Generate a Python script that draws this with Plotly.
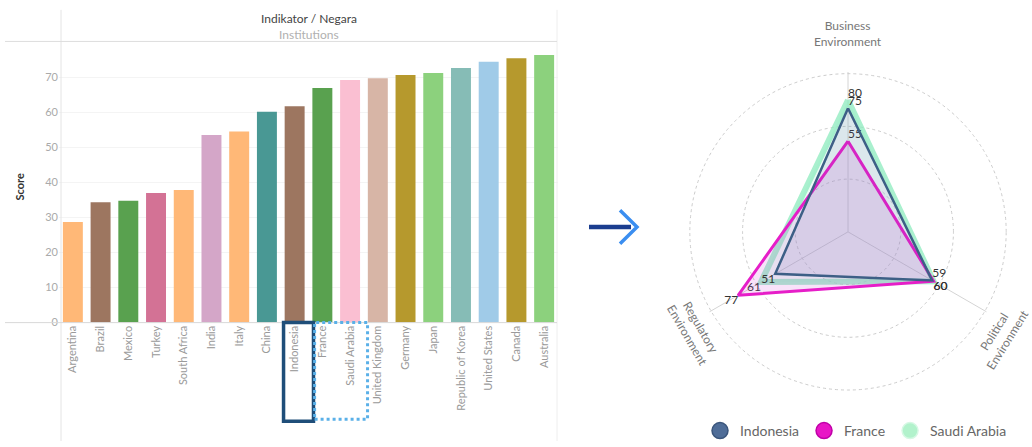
import plotly.graph_objects as go

# ---------------- data ----------------
countries = ["Argentina", "Brazil", "Mexico", "Turkey", "South Africa", "India", "Italy",
             "China", "Indonesia", "France", "Saudi Arabia", "United Kingdom", "Germany",
             "Japan", "Republic of Korea", "United States", "Canada", "Australia"]
scores = [28.7, 34.4, 34.8, 37.0, 37.9, 53.6, 54.6, 60.2, 61.8, 67.0, 69.3, 69.8,
          70.7, 71.3, 72.7, 74.5, 75.5, 76.4]
bar_colors = ["#FFB877", "#9D7660", "#59A14F", "#D37295", "#FFB877", "#D4A6C8", "#FFB877",
              "#499894", "#9D7660", "#59A14F", "#FABFD2", "#D7B5A6", "#B6992D", "#8CD17D",
              "#86BCB6", "#A0CBE8", "#B6992D", "#8CD17D"]
y_ticks = [0, 10, 20, 30, 40, 50, 60, 70]

indicators = ["Business<br>Environment", "Political<br>Environment", "Regulatory<br>Environment"]
radar_series = ["Indonesia", "France", "Saudi Arabia"]
indonesia_vals = [75, 59, 51]
france_vals = [55, 60, 77]
saudi_vals = [80, 60, 61]
radar_rings = [32, 64, 96]

W, H = 1032, 447
def X(px): return px / W
def Y(py): return 1 - py / H

fig = go.Figure()

# ---------------- bar chart ----------------
fig.add_trace(go.Bar(x=countries, y=scores, marker=dict(color=bar_colors, line=dict(width=0)),
                     xaxis="x", yaxis="y", showlegend=False, hoverinfo="x+y"))

# ---------------- radar ----------------
def closed(v):
    return v + [v[0]]

theta = closed(indicators)

radar_style = {
    "Saudi Arabia": dict(vals=saudi_vals, line="rgba(140,235,190,0.75)", width=6,
                         fill="rgba(160,240,205,0.20)", marker="#b2f2cc", mline="#d6f8e4", rank=3,
                         pos=["top right", "bottom right", "bottom left", "top right"]),
    "France": dict(vals=france_vals, line="#e61ec8", width=3,
                   fill="rgba(205,60,215,0.15)", marker="#e815c6", mline="#c000a8", rank=2,
                   pos=["top right", "bottom right", "bottom left", "top right"]),
    "Indonesia": dict(vals=indonesia_vals, line="#3d5f86", width=2.5,
                      fill="rgba(95,85,175,0.12)", marker="#4f6d98", mline="#3b567c", rank=1,
                      pos=["top right", "top right", "bottom left", "top right"]),
}

for name in ["Saudi Arabia", "France", "Indonesia"]:
    s = radar_style[name]
    txt = [str(v) for v in s["vals"]] + [""]
    fig.add_trace(go.Scatterpolar(
        r=closed(s["vals"]), theta=theta, mode="lines+text", text=txt,
        textposition=s["pos"], textfont=dict(size=12, color="#333333", family="Lato"),
        line=dict(color=s["line"], width=s["width"]), fill="toself", fillcolor=s["fill"],
        name=name, showlegend=False, subplot="polar"))

for name in radar_series:
    s = radar_style[name]
    fig.add_trace(go.Scatterpolar(
        r=[None], theta=[None], mode="markers", name=name, subplot="polar",
        marker=dict(size=18, color=s["marker"], line=dict(color=s["mline"], width=1.5)),
        legendrank=s["rank"], showlegend=True))

# ---------------- layout ----------------
shapes = [
    dict(type="line", xref="paper", yref="paper", x0=X(61), x1=X(61), y0=Y(10), y1=Y(447),
         line=dict(color="#e4e4e4", width=1)),
    dict(type="line", xref="paper", yref="paper", x0=X(557), x1=X(557), y0=Y(10), y1=Y(447),
         line=dict(color="#eeeeee", width=1)),
    dict(type="line", xref="paper", yref="paper", x0=X(5), x1=X(557), y0=Y(42), y1=Y(42),
         line=dict(color="#dddddd", width=1)),
    dict(type="line", xref="paper", yref="paper", x0=X(5), x1=X(557), y0=Y(327), y1=Y(327),
         line=dict(color="#d8d8d8", width=1)),
    dict(type="rect", xref="x", yref="paper", x0=7.6, x1=8.68, y0=Y(427), y1=Y(327),
         line=dict(color="#1f4e79", width=3.5)),
    dict(type="rect", xref="x", yref="paper", x0=8.72, x1=10.63, y0=Y(425), y1=Y(327),
         line=dict(color="#5ab0e8", width=3, dash="dot")),
    # arrow
    dict(type="line", xref="paper", yref="paper", x0=X(589), x1=X(631), y0=Y(230), y1=Y(230),
         line=dict(color="#1b3d8f", width=4.5)),
    dict(type="path", xref="paper", yref="paper",
         path=f"M {X(620)},{Y(213)} L {X(637)},{Y(230)} L {X(620)},{Y(247)}",
         line=dict(color="#3b8ef0", width=3.5)),
]

def ann(text, x, y, size=12, color="#777777", angle=0):
    return dict(text=text, xref="paper", yref="paper", x=X(x), y=Y(y), textangle=angle,
                xanchor="center", yanchor="middle", showarrow=False,
                font=dict(size=size, color=color, family="Lato"))

annotations = [
    dict(text="Indikator / Negara", xref="x domain", yref="paper", x=0.5, y=Y(19),
         xanchor="center", yanchor="middle", showarrow=False,
         font=dict(size=12, color="#444444", family="Lato")),
    dict(text="Institutions", xref="x domain", yref="paper", x=0.5, y=Y(35),
         xanchor="center", yanchor="middle", showarrow=False,
         font=dict(size=12, color="#b0b0b0", family="Lato")),
    ann("<b>Score</b>", 19, 190, size=11, color="#333333", angle=-90),
    ann(indicators[0], 848, 34),
    ann(indicators[2], 694, 336, angle=60),
    ann(indicators[1], 1001, 340, angle=-58),
]

R = 162
fig.update_layout(
    width=W, height=H, margin=dict(l=0, r=0, t=0, b=0),
    paper_bgcolor="white", plot_bgcolor="white",
    font=dict(family="Lato", color="#666666"),
    bargap=0.28,
    xaxis=dict(domain=[X(59), X(558)], range=[-0.5, 17.5], tickangle=-90,
               tickfont=dict(size=11, color="#9a9a9a"), showline=False, ticks="",
               showgrid=False, zeroline=False, fixedrange=True),
    yaxis=dict(domain=[Y(327), Y(42)], range=[0, 80.3], tickvals=y_ticks,
               tickfont=dict(size=11, color="#aaaaaa"), showline=False, ticks="",
               gridcolor="#f4f4f4", zeroline=False, fixedrange=True),
    polar=dict(
        domain=dict(x=[X(848 - R), X(848 + R)], y=[Y(235 + R), Y(235 - R)]),
        bgcolor="rgba(0,0,0,0)",
        radialaxis=dict(range=[0, 97], tickvals=radar_rings, showticklabels=False, ticks="",
                        showline=False, gridcolor="#cccccc", griddash="dot", gridwidth=1.3),
        angularaxis=dict(rotation=90, direction="clockwise", showticklabels=False, ticks="",
                         showline=False, gridcolor="#d4d4d4", gridwidth=1),
    ),
    legend=dict(orientation="h", x=X(856), y=Y(437), xanchor="center", yanchor="middle",
                font=dict(size=14, color="#666666", family="Lato"), itemsizing="trace",
                bgcolor="rgba(0,0,0,0)"),
    shapes=shapes, annotations=annotations,
)

fig.write_html("out.html")
